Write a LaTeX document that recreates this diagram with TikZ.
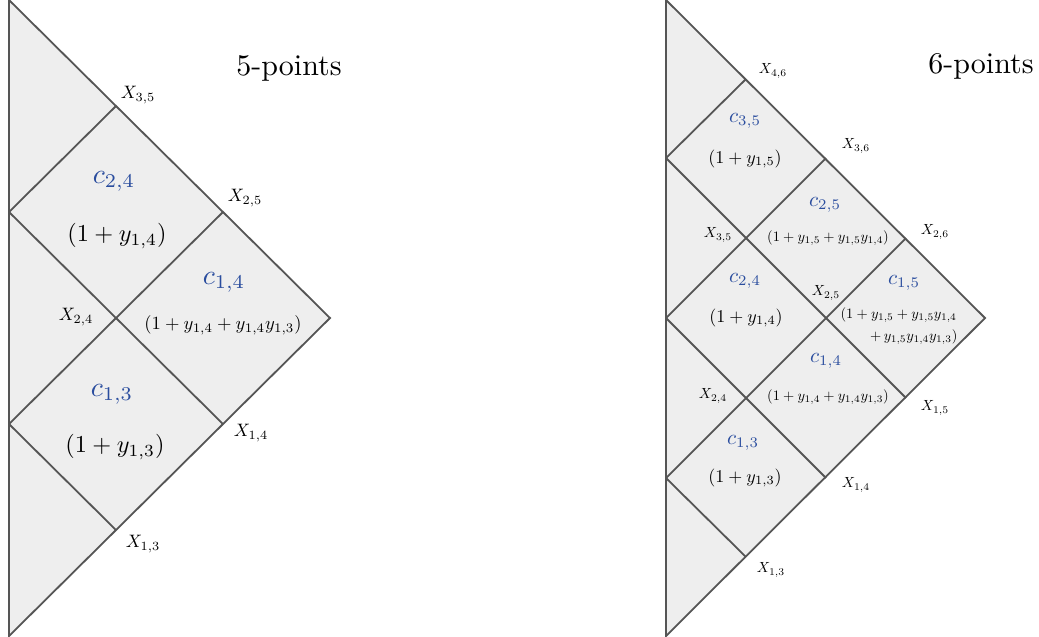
\documentclass[tikz,border=0pt]{standalone}
\usepackage{amsmath}
\usepackage{graphicx}
\definecolor{lineg}{HTML}{555555}
\definecolor{fillg}{HTML}{EEEEEE}
\definecolor{cblue}{HTML}{2A4D9E}
\newcommand{\sbx}[2]{\scalebox{#1}{$#2$}}
\tikzset{
  edge/.style={draw=lineg, line width=0.6pt},
  tri/.style={draw=lineg, fill=fillg, line width=0.6pt, line join=miter},
  lbl/.style={inner sep=0pt},
  cbl/.style={inner sep=0pt, text=cblue},
}
\begin{document}
\begin{tikzpicture}[x=0.3333pt, y=-0.3333pt]
\useasboundingbox (0,0) rectangle (1039,636);
% ---------- left: 5 points ----------
\coordinate (LT) at (9,0);
\coordinate (LB) at (9,636);
\coordinate (LA) at (330,318);
\coordinate (L1) at (9,212);
\coordinate (L2) at (9,424);
\coordinate (LX35) at (116,106);
\coordinate (LX25) at (223,212);
\coordinate (LX24) at (116,318);
\coordinate (LX14) at (223,424);
\coordinate (LX13) at (116,530);
\draw[tri] (LT) -- (LA) -- (LB) -- cycle;
\draw[edge] (L1) -- (LX35);
\draw[edge] (L1) -- (LX14);
\draw[edge] (L2) -- (LX25);
\draw[edge] (L2) -- (LX13);
\node[lbl] (t5) at (289,68) {5-points};
\node[lbl] (lx35) at (138,95) {\sbx{0.6}{X_{3,5}}};
\node[lbl] (lx25) at (245,198) {\sbx{0.6}{X_{2,5}}};
\node[lbl] (lx24) at (76,317) {\sbx{0.6}{X_{2,4}}};
\node[lbl] (lx14) at (251,433) {\sbx{0.6}{X_{1,4}}};
\node[lbl] (lx13) at (143,544) {\sbx{0.6}{X_{1,3}}};
\node[cbl] (lc24) at (114,181) {\sbx{0.93}{c_{2,4}}};
\node[lbl] (ly24) at (117,236) {\sbx{0.81}{(1+y_{1,4})}};
\node[cbl] (lc14) at (224,282) {\sbx{0.93}{c_{1,4}}};
\node[lbl] (ly14) at (223,325) {\sbx{0.62}{(1+y_{1,4}+y_{1,4}y_{1,3})}};
\node[cbl] (lc13) at (112,394) {\sbx{0.93}{c_{1,3}}};
\node[lbl] (ly13) at (115,447) {\sbx{0.81}{(1+y_{1,3})}};
% ---------- right: 6 points ----------
\coordinate (RT) at (666,0);
\coordinate (RB) at (666,636);
\coordinate (RA) at (985,318);
\coordinate (R1) at (666,158);
\coordinate (R2) at (666,318);
\coordinate (R3) at (666,478);
\coordinate (RX46) at (746,79);
\coordinate (RX36) at (826,158);
\coordinate (RX26) at (906,238);
\coordinate (RX15) at (906,398);
\coordinate (RX14) at (826,478);
\coordinate (RX13) at (746,557);
\draw[tri] (RT) -- (RA) -- (RB) -- cycle;
\draw[edge] (R1) -- (RX46);
\draw[edge] (R1) -- (RX15);
\draw[edge] (R2) -- (RX36);
\draw[edge] (R2) -- (RX14);
\draw[edge] (R3) -- (RX26);
\draw[edge] (R3) -- (RX13);
\node[lbl] (t6) at (981,66) {6-points};
\node[lbl] (rx46) at (773,71) {\sbx{0.49}{X_{4,6}}};
\node[lbl] (rx36) at (856,146) {\sbx{0.49}{X_{3,6}}};
\node[lbl] (rx26) at (935,232) {\sbx{0.49}{X_{2,6}}};
\node[lbl] (rx35) at (718,235) {\sbx{0.49}{X_{3,5}}};
\node[lbl] (rx25) at (826,293) {\sbx{0.49}{X_{2,5}}};
\node[lbl] (rx15) at (935,408) {\sbx{0.49}{X_{1,5}}};
\node[lbl] (rx24) at (713,396) {\sbx{0.49}{X_{2,4}}};
\node[lbl] (rx14) at (856,485) {\sbx{0.49}{X_{1,4}}};
\node[lbl] (rx13) at (771,570) {\sbx{0.49}{X_{1,3}}};
\node[cbl] (rc35) at (745,121) {\sbx{0.7}{c_{3,5}}};
\node[lbl] (ry35) at (745,159) {\sbx{0.6}{(1+y_{1,5})}};
\node[cbl] (rc25) at (825,205) {\sbx{0.7}{c_{2,5}}};
\node[lbl] (ry25) at (828,238) {\sbx{0.48}{(1+y_{1,5}+y_{1,5}y_{1,4})}};
\node[cbl] (rc24) at (745,281) {\sbx{0.7}{c_{2,4}}};
\node[lbl] (ry24) at (746,318) {\sbx{0.6}{(1+y_{1,4})}};
\node[cbl] (rc15) at (904,283) {\sbx{0.7}{c_{1,5}}};
\node[lbl, anchor=west] (ry15a) at (840,315) {\sbx{0.48}{(1+y_{1,5}+y_{1,5}y_{1,4}}};
\node[lbl, anchor=east] (ry15b) at (958,337) {\sbx{0.48}{+\,y_{1,5}y_{1,4}y_{1,3})}};
\node[cbl] (rc14) at (826,361) {\sbx{0.7}{c_{1,4}}};
\node[lbl] (ry14) at (828,397) {\sbx{0.48}{(1+y_{1,4}+y_{1,4}y_{1,3})}};
\node[cbl] (rc13) at (743,443) {\sbx{0.7}{c_{1,3}}};
\node[lbl] (ry13) at (745,478) {\sbx{0.6}{(1+y_{1,3})}};
\end{tikzpicture}
\end{document}
